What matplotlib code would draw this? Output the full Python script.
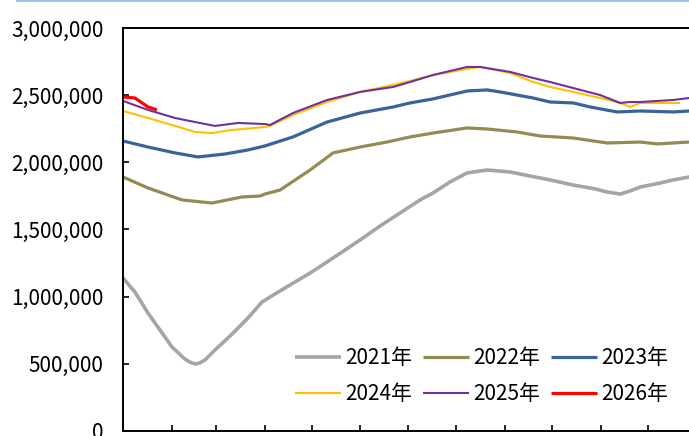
import numpy as np
import matplotlib
matplotlib.use('Agg')
import matplotlib.pyplot as plt
from matplotlib.lines import Line2D
from matplotlib.ticker import FuncFormatter

plt.rcParams['font.family'] = ['Noto Sans CJK SC', 'DejaVu Sans']

# day of year / values
days_2021 = [0, 7.6, 15.9, 23.5, 31.2, 39.4, 43.0, 46.0, 49.0, 52.2, 58.5, 68.1, 79.5,
             88.4, 96.7, 106.2, 119.0, 131.7, 150.8, 163.5, 176.2, 188.9, 197.2, 208.0,
             218.8, 231.6, 246.2, 258.9, 271.6, 286.3, 300.3, 307.9, 316.2, 322.5,
             328.9, 341.6, 349.9, 360.1]
vals_2021 = [1139000, 1035000, 878000, 752000, 625000, 535000, 510000, 499000, 508000,
             529000, 603000, 707000, 841000, 960000, 1020000, 1087000, 1176000, 1273000,
             1422000, 1526000, 1623000, 1720000, 1772000, 1854000, 1921000, 1943000,
             1928000, 1898000, 1869000, 1831000, 1802000, 1779000, 1764000, 1787000,
             1816000, 1846000, 1869000, 1891000]

days_2022 = [0, 15.9, 37.5, 56.6, 75.7, 87.2, 90.3, 99.9, 119.0, 133.6, 150.8, 167.9,
             182.6, 197.2, 218.8, 231.6, 250.6, 265.3, 286.3, 307.9, 328.9, 339.7, 360.1]
vals_2022 = [1891000, 1809000, 1720000, 1697000, 1742000, 1749000, 1764000, 1794000,
             1943000, 2070000, 2114000, 2151000, 2189000, 2218000, 2256000, 2248000,
             2226000, 2196000, 2181000, 2144000, 2151000, 2137000, 2151000]

days_2023 = [0, 15.9, 33.1, 47.7, 64.9, 79.5, 90.3, 108.1, 129.8, 150.8, 171.8, 182.6,
             197.2, 218.8, 231.6, 239.8, 260.8, 271.6, 286.3, 297.1, 314.2, 328.9,
             349.9, 360.1]
vals_2023 = [2159000, 2114000, 2070000, 2040000, 2062000, 2092000, 2122000, 2189000,
             2300000, 2367000, 2412000, 2442000, 2472000, 2531000, 2539000, 2524000,
             2479000, 2449000, 2442000, 2412000, 2375000, 2382000, 2375000, 2382000]

days_2024 = [0, 15.9, 33.1, 45.8, 56.6, 69.3, 90.3, 93.5, 108.1, 129.8, 150.8, 171.8,
             182.6, 197.2, 218.8, 227.1, 246.2, 260.8, 271.6, 286.3, 303.4, 316.2,
             322.5, 328.9, 339.7, 354.3]
vals_2024 = [2382000, 2330000, 2271000, 2226000, 2218000, 2241000, 2263000, 2271000,
             2352000, 2449000, 2524000, 2576000, 2606000, 2650000, 2695000, 2710000,
             2665000, 2598000, 2561000, 2524000, 2479000, 2442000, 2412000, 2442000,
             2442000, 2442000]

days_2025 = [0, 15.9, 33.1, 45.8, 58.5, 73.2, 90.3, 93.5, 108.1, 129.8, 150.8, 171.8,
             182.6, 197.2, 218.8, 227.1, 246.2, 260.8, 271.6, 286.3, 303.4, 316.2,
             322.5, 328.9, 349.9, 360.1]
vals_2025 = [2457000, 2390000, 2330000, 2300000, 2271000, 2293000, 2285000, 2278000,
             2367000, 2464000, 2524000, 2561000, 2598000, 2650000, 2710000, 2710000,
             2673000, 2628000, 2598000, 2553000, 2501000, 2442000, 2449000, 2449000,
             2464000, 2479000]

days_2026 = [0, 7.6, 15.9, 21.6]
vals_2026 = [2486000, 2479000, 2412000, 2390000]

labels = ['2021年', '2022年', '2023年', '2024年', '2025年', '2026年']
colors = ['#A5A5A5', '#948A54', '#3A6399', '#FFC000', '#7030A0', '#FF0000']
widths = [2.6, 2.3, 2.3, 1.5, 1.5, 2.3]
month_starts = [0, 31, 59, 90, 120, 151, 181, 212, 243, 273, 304, 334]

series = [(days_2021, vals_2021), (days_2022, vals_2022), (days_2023, vals_2023),
          (days_2024, vals_2024), (days_2025, vals_2025), (days_2026, vals_2026)]

fig = plt.figure(figsize=(6.89, 4.36), dpi=100)
ax = fig.add_axes([0.1785, 0.0115, 0.833, 0.9243])

handles = []
for (d, v), lab, c, w in zip(series, labels, colors, widths):
    h, = ax.plot(d, v, color=c, lw=w, label=lab, solid_capstyle='butt')
    handles.append(h)

ax.set_xlim(0, 365)
ax.set_ylim(0, 3000000)
ax.set_xticks(month_starts)
ax.set_xticklabels([])
ax.set_yticks(np.arange(0, 3000001, 500000))
ax.yaxis.set_major_formatter(FuncFormatter(lambda v, p: f'{int(v):,}'))
ax.tick_params(axis='both', direction='in', length=4.5, width=1.2, color='black')
ax.tick_params(axis='y', labelsize=15, pad=14)
for s in ax.spines.values():
    s.set_linewidth(1.4)
    s.set_color('black')

# legend fills row by row in the reference
order = [0, 3, 1, 4, 2, 5]
ax.legend([handles[i] for i in order], [labels[i] for i in order],
          loc='lower right', bbox_to_anchor=(0.982, 0.018), ncol=3, frameon=False,
          fontsize=15, handlelength=2.2, handletextpad=0.18, columnspacing=0.55,
          labelspacing=0.65)

# thin blue rule along the top edge of the figure
fig.add_artist(Line2D([0.025, 1.0], [0.998, 0.998], color='#9DC3E6', lw=1.5))

fig.savefig('out.png', dpi=100)
